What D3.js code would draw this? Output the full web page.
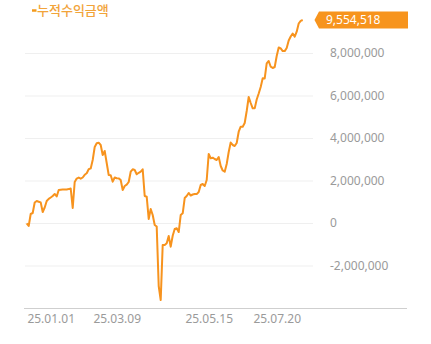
<!DOCTYPE html>
<html>
<head>
<meta charset="utf-8">
<script src="https://cdn.jsdelivr.net/npm/d3@7"></script>
<style>
  html, body { margin: 0; padding: 0; background: #fff; }
  svg { display: block; }
  text { font-family: "Noto Sans", "Noto Sans CJK KR", sans-serif; }
</style>
</head>
<body>
<svg id="chart" width="431" height="344"></svg>
<script>
// Cumulative profit (누적수익금액), one value per date
const dates = [
  "24.12.08","24.12.10","24.12.12","24.12.14","24.12.16","24.12.18","24.12.20","24.12.22","24.12.24","24.12.26","24.12.28","24.12.30",
  "25.01.01","25.01.03","25.01.05","25.01.07","25.01.09","25.01.11","25.01.13","25.01.15","25.01.17","25.01.19","25.01.21","25.01.23","25.01.25","25.01.27","25.01.29","25.01.31",
  "25.02.02","25.02.04","25.02.06","25.02.08","25.02.10","25.02.12","25.02.14","25.02.16","25.02.18","25.02.20","25.02.22","25.02.24","25.02.26","25.02.28",
  "25.03.02","25.03.04","25.03.06","25.03.09",
  "25.03.10","25.03.11","25.03.13","25.03.14","25.03.16","25.03.17","25.03.19","25.03.20","25.03.22","25.03.23","25.03.25","25.03.26","25.03.28","25.03.29","25.03.31",
  "25.04.01","25.04.02","25.04.04","25.04.05","25.04.07","25.04.08","25.04.10","25.04.11","25.04.13","25.04.14","25.04.16","25.04.17","25.04.19","25.04.20","25.04.22","25.04.23","25.04.25","25.04.26","25.04.28","25.04.29",
  "25.05.01","25.05.02","25.05.04","25.05.05","25.05.07","25.05.08","25.05.10","25.05.11","25.05.13","25.05.14","25.05.15",
  "25.05.17","25.05.19","25.05.21","25.05.23","25.05.25","25.05.27","25.05.29","25.05.31",
  "25.06.02","25.06.04","25.06.06","25.06.08","25.06.10","25.06.12","25.06.14","25.06.16","25.06.18","25.06.20","25.06.22","25.06.24","25.06.26","25.06.28","25.06.30",
  "25.07.02","25.07.04","25.07.06","25.07.08","25.07.10","25.07.12","25.07.14","25.07.16","25.07.18","25.07.19","25.07.20",
  "25.07.22","25.07.24","25.07.26","25.07.28","25.07.30","25.08.01","25.08.03","25.08.05","25.08.07","25.08.09","25.08.11","25.08.13","25.08.15"
];

const profit = [
  -14000, -141000, 424000, 471000, 965000, 1035000, 1002000, 969000, 518000, 729000,
  1035000, 1139000, 1200000, 1271000, 1365000, 1247000, 1553000, 1562000, 1572000, 1576000,
  1581000, 1595000, 1624000, 706000, 1929000, 2089000, 2141000, 2085000, 2141000, 2268000,
  2339000, 2532000, 2569000, 2965000, 3576000, 3751000, 3779000, 3671000, 3200000, 3388000,
  2824000, 2259000, 2250000, 1944000, 2141000, 2104000, 2100000, 2024000, 1553000, 1741000,
  1802000, 1929000, 2414000, 2527000, 2494000, 2292000, 2362000, 2414000, 2527000, 1271000,
  1238000, 188000, 659000, 376000, -94000, -165000, -2965000, -3624000, -1035000, -1040000,
  -955000, -612000, -1115000, -600000, -282000, -249000, -424000, 376000, 456000, 1176000,
  1271000, 1412000, 1294000, 1341000, 1365000, 1360000, 1459000, 1788000, 1835000, 1741000,
  2024000, 3247000, 3045000, 3073000, 3012000, 2965000, 3106000, 2682000, 2471000, 2414000,
  2776000, 3341000, 3788000, 3671000, 3624000, 3765000, 4296000, 4532000, 4530000, 4706000,
  5271000, 5929000, 5647000, 5398000, 5395000, 5812000, 6094000, 6400000, 6809000, 6805000,
  7515000, 7624000, 7355000, 7294000, 7341000, 7859000, 8259000, 8212000, 8094000, 8090000,
  8235000, 8588000, 8776000, 8918000, 8767000, 9002000, 9388000, 9515000, 9554518
];

const xTickLabels = ["25.01.01", "25.03.09", "25.05.15", "25.07.20"];
const yTickValues = [-2000000, 0, 2000000, 4000000, 6000000, 8000000];
const seriesName = "누적수익금액";

const lineColor = "#f7931e";
const labelGrey = "#9a9a9a";

const data = dates.map((d, i) => ({ date: d, value: profit[i] }));

const fmt = d3.formatLocale({ decimal: ".", thousands: ",", grouping: [3], currency: ["", ""], minus: "-" }).format(",");

const svg = d3.select("#chart");

const x = d3.scalePoint().domain(dates).range([26.7, 302.7]).padding(0);
const y = d3.scaleLinear().domain([-4000000, 10000000]).range([308, 10.5]);

// horizontal grid
const grid = svg.append("g")
  .attr("transform", "translate(25,0)")
  .call(d3.axisLeft(y).tickValues(yTickValues).tickSize(-288).tickFormat(""));
grid.select(".domain").remove();
grid.selectAll("line").attr("stroke", "#efefef").attr("stroke-width", 1);

// value labels on the right
const yAxis = svg.append("g")
  .attr("transform", "translate(330,0)")
  .call(d3.axisRight(y).tickValues(yTickValues).tickSize(0).tickPadding(0).tickFormat(fmt));
yAxis.select(".domain").remove();
yAxis.selectAll("text")
  .attr("fill", labelGrey)
  .attr("font-size", "12px")
  .attr("text-anchor", "start");

// bottom baseline
svg.append("line")
  .attr("x1", 24).attr("x2", 407)
  .attr("y1", y(-4000000) + 0.5).attr("y2", y(-4000000) + 0.5)
  .attr("stroke", "#cfcfcf").attr("stroke-width", 1);

const xAxis = svg.append("g")
  .attr("transform", `translate(0,${y(-4000000)})`)
  .call(d3.axisBottom(x).tickValues(xTickLabels).tickSize(0).tickPadding(6));
xAxis.select(".domain").remove();
xAxis.selectAll("text")
  .attr("fill", labelGrey)
  .attr("font-size", "12px");

// the series line
const line = d3.line()
  .x(d => x(d.date))
  .y(d => y(d.value));

svg.append("path")
  .datum(data)
  .attr("fill", "none")
  .attr("stroke", lineColor)
  .attr("stroke-width", 2)
  .attr("stroke-linejoin", "round")
  .attr("d", line);

// last value marker
const last = data[data.length - 1];
const ly = y(last.value);
const tipX = 314.5, bodyX = 319, rightX = 408, halfH = 8.5;
svg.append("path")
  .attr("d", `M${tipX},${ly} L${bodyX},${ly - halfH} L${rightX},${ly - halfH} L${rightX},${ly + halfH} L${bodyX},${ly + halfH} Z`)
  .attr("fill", "#f7941d");
svg.append("text")
  .attr("x", 326)
  .attr("y", ly)
  .attr("dy", "0.35em")
  .attr("fill", "#fff")
  .attr("font-size", "12px")
  .text(fmt(last.value));

// legend
const legend = svg.append("g");
legend.append("line")
  .attr("x1", 32).attr("x2", 36.5)
  .attr("y1", 10.5).attr("y2", 10.5)
  .attr("stroke", "#f39a1c").attr("stroke-width", 2.5);
legend.append("text")
  .attr("x", 37)
  .attr("y", 10.5)
  .attr("dy", "0.35em")
  .attr("fill", "#f2a43a")
  .attr("font-size", "13px")
  .attr("font-weight", 500)
  .attr("font-family", "'Noto Sans CJK KR', sans-serif")
  .text(seriesName);
</script>
</body>
</html>
